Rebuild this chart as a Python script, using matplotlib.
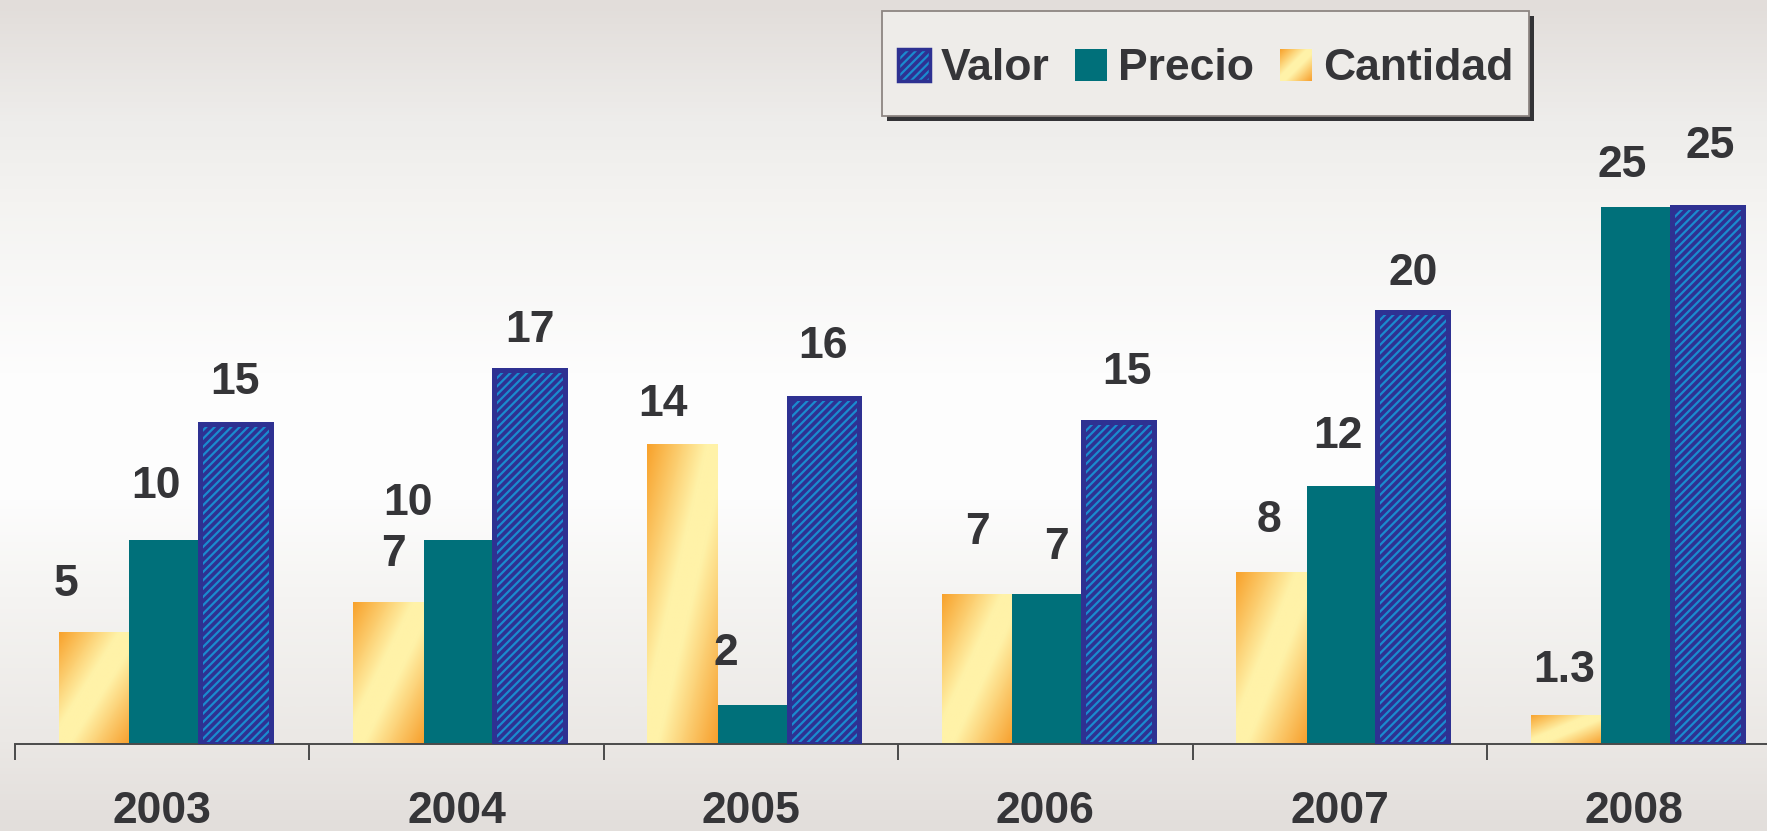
import numpy as np
import matplotlib
matplotlib.use("Agg")
import matplotlib.pyplot as plt
from matplotlib.colors import LinearSegmentedColormap
from matplotlib.patches import Patch, Rectangle
from matplotlib.legend_handler import HandlerBase, HandlerTuple
from matplotlib.image import BboxImage
from matplotlib.transforms import Bbox, TransformedBbox

# data
years = ["2003", "2004", "2005", "2006", "2007", "2008"]
cantidad = [5.2, 6.6, 13.95, 7.0, 8.0, 1.35]
precio = [9.5, 9.5, 1.8, 7.0, 12.0, 25.0]
valor = [14.9, 17.4, 16.1, 15.0, 20.1, 25.0]
cantidad_labels = ["5", "7", "14", "7", "8", "1.3"]
precio_labels = ["10", "10", "2", "7", "12", "25"]
valor_labels = ["15", "17", "16", "15", "20", "25"]

# label offsets (points) - the labels in the original are hand placed
cantidad_off = [(-20, 26), (4, 26), (-14, 20), (0, 36), (-2, 29), (-1, 24)]
precio_off = [(-6, 30), (-37, 18), (-20, 29), (6, 25), (-3, 27), (-10, 21)]
valor_off = [(0, 21), (0, 20), (-1, 29), (6, 27), (0, 19), (2, 35)]

TEXT = "#353538"
TEAL = "#00707a"
NAVY = "#2e3192"
HATCH_BLUE = "#1a8bcf"
FONT = ["Liberation Sans", "DejaVu Sans"]

plt.rcParams["font.family"] = FONT
plt.rcParams["hatch.linewidth"] = 1.6

cant_cmap = LinearSegmentedColormap.from_list(
    "cant", [(0.0, "#f8a22c"), (0.42, "#fff2a8"), (0.58, "#fff2a8"), (1.0, "#f7a02e")])
bg_cmap = LinearSegmentedColormap.from_list(
    "bg", [(0.0, "#e2ddda"), (0.145, "#eeedeb"), (0.24, "#f4f3f1"), (0.45, "#fdfdfd"),
           (0.6, "#fdfdfd"), (0.72, "#f5f4f2"), (0.895, "#ebe8e5"), (1.0, "#e2dedb")])


def grad_array(n=64):
    xs = np.linspace(0, 1, n)
    X, Y = np.meshgrid(xs, xs)
    return (X + 1 - Y) / 2


class GradientHandler(HandlerBase):
    def create_artists(self, legend, orig_handle, xdescent, ydescent, width, height, fontsize, trans):
        bb = TransformedBbox(Bbox.from_bounds(-xdescent, -ydescent, width, height), trans)
        img = BboxImage(bb, cmap=cant_cmap, interpolation="bilinear", origin="lower")
        img.set_data(grad_array())
        return [img]


W, H = 1767, 831
fig = plt.figure(figsize=(W / 100, H / 100), dpi=100)

# background gradient
bg = fig.add_axes([0, 0, 1, 1], zorder=-1)
bg.imshow(np.linspace(0, 1, 256).reshape(-1, 1), cmap=bg_cmap, aspect="auto",
          extent=(0, 1, 0, 1), interpolation="bilinear")
bg.set_axis_off()

base_px = 744
ax = fig.add_axes([0, (H - base_px) / H, 1, base_px / H])
ax.patch.set_alpha(0)

x = np.arange(len(years))
bw = 0.24
shift = 0.008

# Cantidad: gradient bars
cbars = ax.bar(x + shift - bw, cantidad, bw, facecolor="none", edgecolor="none", zorder=2)
for rect in cbars:
    x0, y0 = rect.get_x(), rect.get_y()
    im = ax.imshow(grad_array(), cmap=cant_cmap, origin="lower", aspect="auto",
                   interpolation="bilinear", zorder=2,
                   extent=(x0, x0 + rect.get_width(), y0, y0 + rect.get_height()))
    im.set_clip_path(rect)

# Precio
ax.bar(x + shift, precio, bw, color=TEAL, zorder=2)

# Valor: hatched fill + thick navy border
ax.bar(x + shift + bw, valor, bw, facecolor=NAVY, edgecolor=HATCH_BLUE,
       hatch="////", linewidth=0, zorder=3)
ax.bar(x + shift + bw, valor, bw, facecolor="none", edgecolor=NAVY, linewidth=3.6, zorder=4)

# value labels
for k, (vals, labs, offs) in enumerate([(cantidad, cantidad_labels, cantidad_off),
                                         (precio, precio_labels, precio_off),
                                         (valor, valor_labels, valor_off)]):
    for i, (v, lab, off) in enumerate(zip(vals, labs, offs)):
        ax.annotate(lab, (x[i] + shift + (k - 1) * bw, v), xytext=off,
                    textcoords="offset points", ha="center", va="baseline",
                    fontsize=32, fontweight="bold", color=TEXT, zorder=5)

for s in ["top", "left", "right"]:
    ax.spines[s].set_visible(False)
ax.spines["bottom"].set_color("#4a4a4a")
ax.spines["bottom"].set_linewidth(1.4)
ax.spines["bottom"].set_bounds(-0.5, 6)
ax.set_yticks([])
ax.set_xticks(x)
ax.set_xticklabels(years, fontsize=32, fontweight="bold", color=TEXT)
ax.tick_params(axis="x", which="major", length=0, pad=34)
ax.set_xticks(np.arange(-0.5, 5.0, 1), minor=True)
ax.tick_params(axis="x", which="minor", length=11.5, width=1.4, color="#4a4a4a", direction="out")

# limits last, so the ticks don't widen them
left_px = 15
group_px = 294.4
x_left = -0.5 - left_px / group_px
ax.set_xlim(x_left, x_left + W / group_px)
ax.set_ylim(0, base_px / 21.5)

# legend box with hard shadow, drawn by hand
box_x0, box_y0, box_x1, box_y1 = 882, 11, 1529, 116
fig.patches.append(Rectangle(((box_x0 + 5) / W, 1 - (box_y1 + 5) / H),
                             (box_x1 - box_x0) / W, (box_y1 - box_y0) / H,
                             transform=fig.transFigure, facecolor="#333336",
                             edgecolor="none", zorder=8))
fig.patches.append(Rectangle((box_x0 / W, 1 - box_y1 / H),
                             (box_x1 - box_x0) / W, (box_y1 - box_y0) / H,
                             transform=fig.transFigure, facecolor="#eeece9",
                             edgecolor="#8d8682", linewidth=1.3, zorder=9))

valor_handle = (Patch(facecolor=NAVY, edgecolor=HATCH_BLUE, hatch="////", linewidth=0),
                Patch(facecolor="none", edgecolor=NAVY, linewidth=2.5))
precio_handle = Patch(facecolor=TEAL, edgecolor="none")
cant_handle = Patch(facecolor="#fff2a8")
leg = fig.legend([valor_handle, precio_handle, cant_handle], ["Valor", "Precio", "Cantidad"],
                 handler_map={tuple: HandlerTuple(ndivide=1, pad=0), cant_handle: GradientHandler()},
                 ncol=3, loc="center left", bbox_to_anchor=(898 / W, 1 - 69 / H),
                 borderaxespad=0, borderpad=0, frameon=False,
                 prop={"family": FONT, "weight": "bold", "size": 32},
                 labelcolor=TEXT, handlelength=0.72, handleheight=0.72, handletextpad=0.25,
                 columnspacing=0.57)
leg.set_zorder(10)

fig.savefig("out.png", dpi=100)
